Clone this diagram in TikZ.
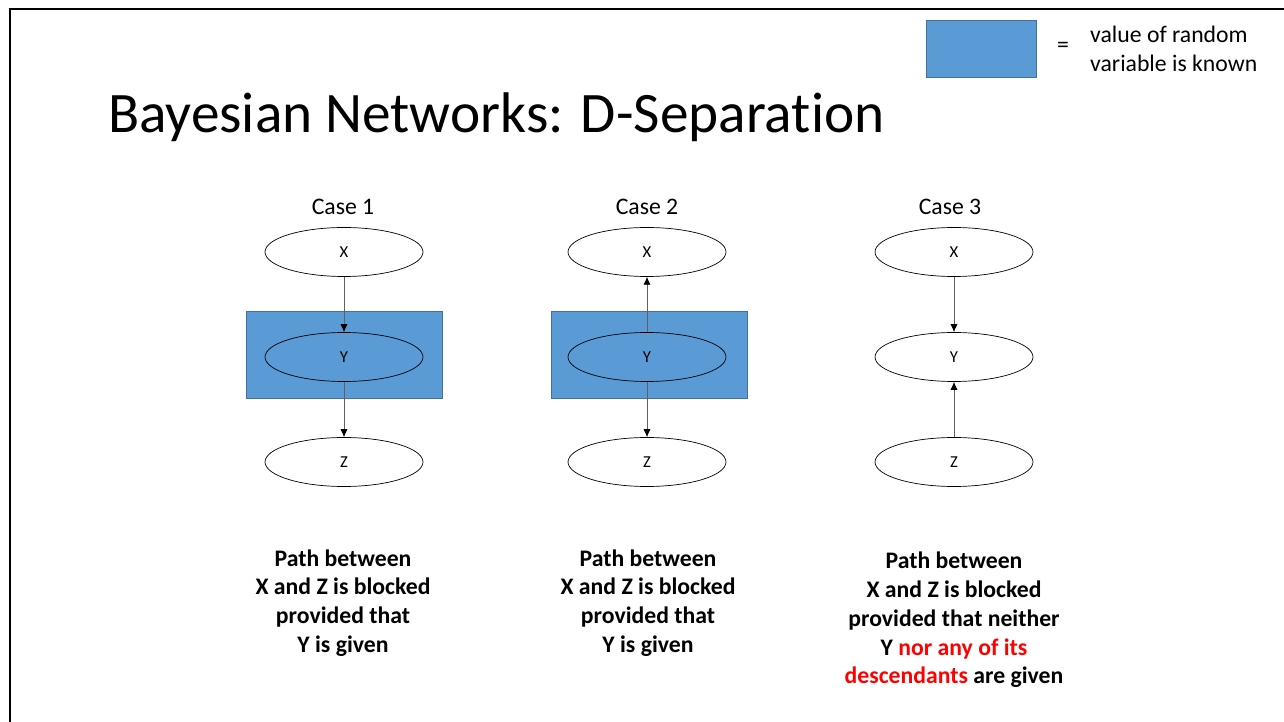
\documentclass[tikz,border=0pt]{standalone}
\usepackage{fontspec}
\setmainfont{Carlito}
\usetikzlibrary{shapes.geometric, arrows.meta}

\definecolor{knownblue}{HTML}{5B9BD5}
\definecolor{knownedge}{HTML}{41719C}
\definecolor{linegray}{HTML}{606060}

\begin{document}
\begin{tikzpicture}[x=0.02cm, y=-0.02cm,
	var/.style={ellipse, draw, thin, minimum width=3.16cm, minimum height=0.98cm, inner sep=0pt, font=\fontsize{9.5}{11}\selectfont},
	known/.style={fill=knownblue, draw=knownedge, thin},
	edge/.style={draw=linegray, thin, -{Latex[length=4.5pt, width=4pt, color=black]}},
	casetitle/.style={anchor=base, font=\fontsize{13.5}{16}\selectfont},
	remark/.style={align=center, font=\fontsize{13.5}{16.4}\selectfont\bfseries}]
	\useasboundingbox (0, 0) rectangle (1284, 722);

	% slide frame
	\draw [line width=1.4pt] (10, 722) -- (10, 9) -- (1284, 9);

	% legend
	\filldraw [known] (926, 20) rectangle (1036, 77);
	\node (eq) at (1063, 47) {\fontsize{13.5}{16}\selectfont =};
	\node [anchor=west, align=left, font=\fontsize{13.5}{16.4}\selectfont] (legend) at (1084, 49) {value of random\\variable is known};

	\node [anchor=base west, font=\fontsize{32.6}{40}\selectfont\addfontfeatures{Ligatures=NoCommon}] (title) at (102, 133) {Bayesian Networks: D-Separation};

	% Case 1
	\filldraw [known] (246, 311) rectangle (442, 398);
	\node [casetitle] (c1) at (343, 215) {Case 1};
	\node [var, fill=white] (x1) at (344, 252) {X};
	\node [var] (y1) at (344, 357) {Y};
	\node [var, fill=white] (z1) at (344, 462) {Z};
	\draw [edge] (x1) -- (y1);
	\draw [edge] (y1) -- (z1);
	\node [remark] (r1) at (343, 603) {Path between\\X and Z is blocked\\provided that\\Y is given};

	% Case 2
	\filldraw [known] (551, 311) rectangle (747, 398);
	\node [casetitle] (c2) at (647, 215) {Case 2};
	\node [var, fill=white] (x2) at (647, 252) {X};
	\node [var] (y2) at (647, 357) {Y};
	\node [var, fill=white] (z2) at (647, 462) {Z};
	\draw [edge] (y2) -- (x2);
	\draw [edge] (y2) -- (z2);
	\node [remark] (r2) at (648, 603) {Path between\\X and Z is blocked\\provided that\\Y is given};

	% Case 3
	\node [casetitle] (c3) at (950, 215) {Case 3};
	\node [var] (x3) at (954, 252) {X};
	\node [var] (y3) at (954, 357) {Y};
	\node [var] (z3) at (954, 462) {Z};
	\draw [edge] (x3) -- (y3);
	\draw [edge] (z3) -- (y3);
	\node [remark] (r3) at (954, 620) {Path between\\X and Z is blocked\\provided that neither\\Y \textcolor{red}{nor any of its}\\\textcolor{red}{descendants} are given};
\end{tikzpicture}
\end{document}
